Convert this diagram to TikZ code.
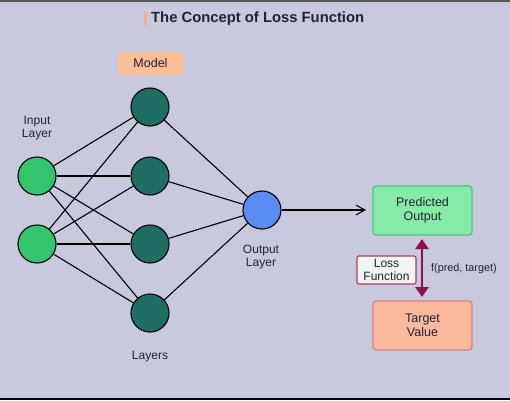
\documentclass[tikz,border=0pt]{standalone}
\usepackage{fontspec}
\setmainfont{Liberation Sans}
\usetikzlibrary{arrows.meta}
\definecolor{bg}{HTML}{C9C9DE}
\definecolor{hid}{HTML}{1F6E63}
\definecolor{inp}{HTML}{34C46E}
\definecolor{outc}{HTML}{5A8CF4}
\definecolor{peach}{HTML}{FBBE97}
\definecolor{predfill}{HTML}{86EBA8}
\definecolor{predline}{HTML}{4CC27A}
\definecolor{tgtfill}{HTML}{FBB99E}
\definecolor{tgtline}{HTML}{E07C78}
\definecolor{maroon}{HTML}{8B1150}
\definecolor{lossline}{HTML}{A83C60}
\definecolor{lossfill}{HTML}{EEF5F2}
\definecolor{txt}{HTML}{222233}
\tikzset{
  neuron/.style={circle, draw=black, line width=1.1pt, minimum size=38pt, inner sep=0pt},
  edge/.style={draw=black, line width=1.1pt},
  lbl/.style={font=\fontsize{12}{13}\selectfont, text=txt, align=center, inner sep=0pt},
  bigbox/.style={rounded corners=3pt, line width=1.2pt, minimum width=99pt, minimum height=49pt, align=center, font=\fontsize{12.5}{13.5}\selectfont, text=txt}
}
\begin{document}
\begin{tikzpicture}[x=1pt,y=-1pt]
\fill[bg] (0,0) rectangle (510,400);
\useasboundingbox (0,0) rectangle (510,400);
\fill[black!65] (0,0) rectangle (510,2);
\fill[black!75!blue!40!black] (0,397.5) rectangle (510,400);
% title
\fill[peach!90!red] (144,12) rectangle (146.5,25);
\node[anchor=west, font=\bfseries\fontsize{14.8}{16}\selectfont, text=txt, inner sep=0pt] (title) at (151,18.5) {The Concept of Loss Function};
% model tag
\node[fill=peach, rounded corners=3pt, minimum width=65pt, minimum height=23pt, inner sep=0pt, font=\fontsize{12.5}{13.5}\selectfont, text=txt] (model) at (150.5,63.5) {Model};
% neurons
\node[neuron, fill=inp] (i1) at (37,176) {};
\node[neuron, fill=inp] (i2) at (37,244) {};
\node[neuron, fill=hid] (h1) at (150,107) {};
\node[neuron, fill=hid] (h2) at (150,176) {};
\node[neuron, fill=hid] (h3) at (150,244) {};
\node[neuron, fill=hid] (h4) at (150,313) {};
\node[neuron, fill=outc] (o) at (262,210) {};
\foreach \i in {i1,i2}{\foreach \h in {h1,h2,h3,h4}{\draw[edge] (\i) -- (\h);}}
\foreach \h in {h1,h2,h3,h4}{\draw[edge] (\h) -- (o);}
% labels
\node[lbl] (inlab) at (37,128) {Input\\Layer};
\node[lbl] (outlab) at (261,257) {Output\\Layer};
\node[lbl] (laylab) at (150,357) {Layers};
% boxes
\node[bigbox, fill=predfill, draw=predline] (pred) at (422.5,210.5) {Predicted\\Output};
\node[bigbox, fill=tgtfill, draw=tgtline] (tgt) at (422.5,325.5) {Target\\Value};
\draw[-{Straight Barb[length=9pt,width=10pt]}, line width=1.1pt] (o) -- (366,210);
% loss arrow
\coordinate (atop) at (422,239);
\coordinate (abot) at (422,297);
\draw[maroon, line width=2.8pt, {Triangle[length=10pt,width=13pt]}-{Triangle[length=10pt,width=13pt]}] (atop) -- (abot);
\node[draw=lossline, fill=lossfill, rounded corners=2pt, line width=1.1pt, minimum width=59pt, minimum height=28pt, inner sep=1pt, align=center, font=\fontsize{12}{12.5}\selectfont, text=txt] (loss) at (386.5,270) {Loss\\Function};
\node[anchor=west, font=\fontsize{10.8}{11}\selectfont, text=txt, inner sep=0pt] (flab) at (431,269) {f(pred, target)};
\end{tikzpicture}
\end{document}
